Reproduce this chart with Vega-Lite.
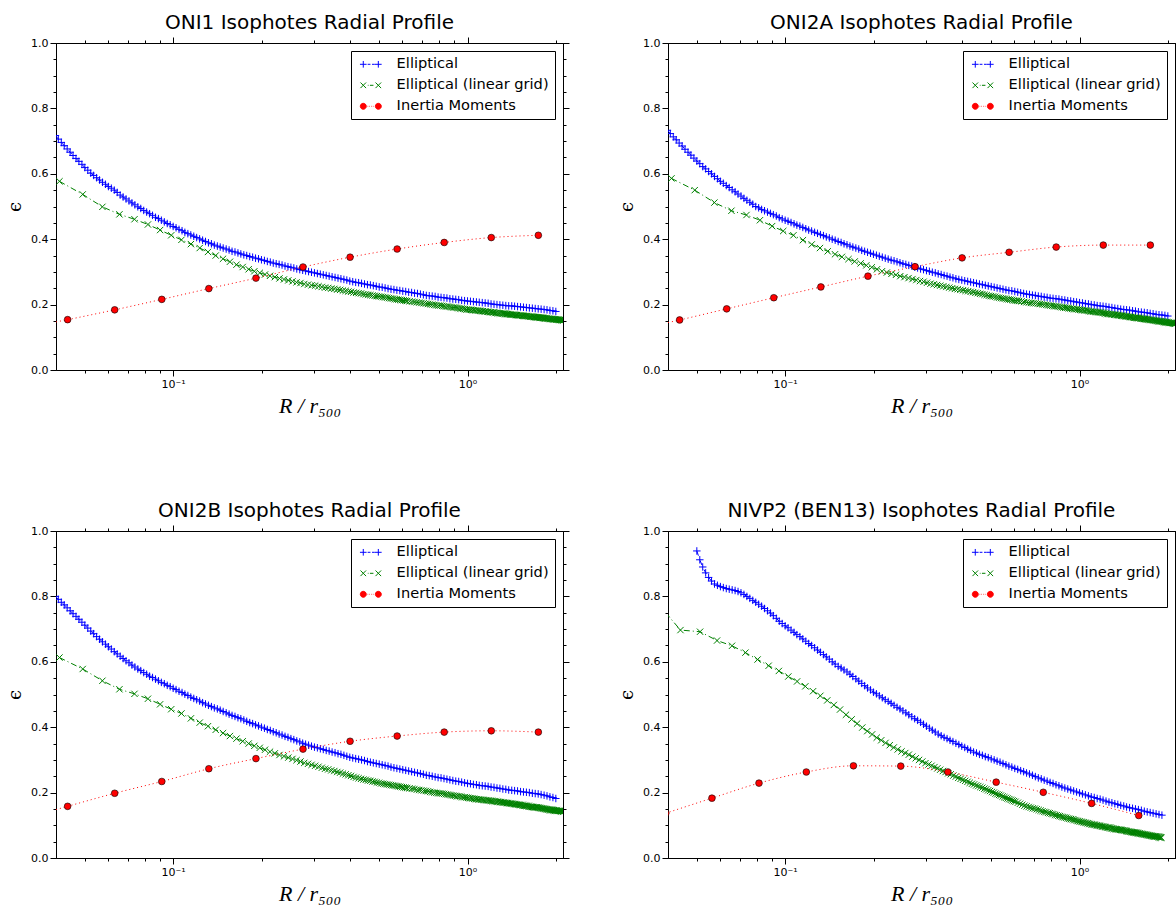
{
"$schema":"https://vega.github.io/schema/vega-lite/v6.json",
"background":"white",
"padding":{"left":6,"top":12,"right":2,"bottom":2},
"datasets":{
"ell":[
{"x":0.03981,"a":0.717,"b":0.733,"c":0.800},
{"x":0.04169,"a":0.696,"b":0.713,"c":0.782},
{"x":0.04365,"a":0.676,"b":0.694,"c":0.765},
{"x":0.04571,"a":0.656,"b":0.675,"c":0.747},
{"x":0.04786,"a":0.638,"b":0.657,"c":0.730},
{"x":0.05012,"a":0.619,"b":0.639,"c":0.712,"d":0.939},
{"x":0.05248,"a":0.602,"b":0.622,"c":0.694,"d":0.890},
{"x":0.05495,"a":0.588,"b":0.607,"c":0.677,"d":0.858},
{"x":0.05754,"a":0.574,"b":0.592,"c":0.661,"d":0.838},
{"x":0.06026,"a":0.561,"b":0.577,"c":0.646,"d":0.830},
{"x":0.06310,"a":0.550,"b":0.564,"c":0.631,"d":0.824},
{"x":0.06607,"a":0.535,"b":0.551,"c":0.617,"d":0.820},
{"x":0.06918,"a":0.523,"b":0.538,"c":0.603,"d":0.815},
{"x":0.07244,"a":0.511,"b":0.525,"c":0.590,"d":0.806},
{"x":0.07586,"a":0.499,"b":0.513,"c":0.578,"d":0.794},
{"x":0.07943,"a":0.488,"b":0.500,"c":0.567,"d":0.782},
{"x":0.08318,"a":0.478,"b":0.491,"c":0.556,"d":0.770},
{"x":0.08710,"a":0.467,"b":0.483,"c":0.547,"d":0.756},
{"x":0.09120,"a":0.458,"b":0.475,"c":0.537,"d":0.741},
{"x":0.09550,"a":0.448,"b":0.466,"c":0.528,"d":0.724},
{"x":0.1000,"a":0.439,"b":0.458,"c":0.519,"d":0.710},
{"x":0.1047,"a":0.430,"b":0.451,"c":0.510,"d":0.697},
{"x":0.1096,"a":0.421,"b":0.443,"c":0.501,"d":0.683},
{"x":0.1148,"a":0.413,"b":0.436,"c":0.492,"d":0.670},
{"x":0.1202,"a":0.405,"b":0.428,"c":0.484,"d":0.656},
{"x":0.1259,"a":0.397,"b":0.421,"c":0.475,"d":0.643},
{"x":0.1318,"a":0.389,"b":0.414,"c":0.467,"d":0.629},
{"x":0.1380,"a":0.382,"b":0.407,"c":0.459,"d":0.615},
{"x":0.1445,"a":0.376,"b":0.400,"c":0.452,"d":0.600},
{"x":0.1514,"a":0.370,"b":0.393,"c":0.444,"d":0.586},
{"x":0.1585,"a":0.363,"b":0.386,"c":0.436,"d":0.575},
{"x":0.1660,"a":0.358,"b":0.379,"c":0.429,"d":0.562},
{"x":0.1738,"a":0.352,"b":0.373,"c":0.422,"d":0.548},
{"x":0.1820,"a":0.347,"b":0.366,"c":0.414,"d":0.534},
{"x":0.1905,"a":0.342,"b":0.360,"c":0.407,"d":0.520},
{"x":0.1995,"a":0.337,"b":0.354,"c":0.400,"d":0.507},
{"x":0.2089,"a":0.332,"b":0.348,"c":0.393,"d":0.496},
{"x":0.2188,"a":0.327,"b":0.342,"c":0.386,"d":0.484},
{"x":0.2291,"a":0.323,"b":0.336,"c":0.379,"d":0.473},
{"x":0.2399,"a":0.318,"b":0.331,"c":0.372,"d":0.461},
{"x":0.2512,"a":0.314,"b":0.325,"c":0.365,"d":0.450},
{"x":0.2630,"a":0.309,"b":0.320,"c":0.358,"d":0.438},
{"x":0.2754,"a":0.305,"b":0.315,"c":0.351,"d":0.426},
{"x":0.2884,"a":0.301,"b":0.309,"c":0.345,"d":0.415},
{"x":0.3020,"a":0.297,"b":0.304,"c":0.339,"d":0.403},
{"x":0.3162,"a":0.293,"b":0.299,"c":0.334,"d":0.391},
{"x":0.3311,"a":0.289,"b":0.294,"c":0.329,"d":0.379},
{"x":0.3467,"a":0.285,"b":0.289,"c":0.324,"d":0.369},
{"x":0.3631,"a":0.281,"b":0.284,"c":0.319,"d":0.360},
{"x":0.3802,"a":0.277,"b":0.279,"c":0.314,"d":0.351},
{"x":0.3981,"a":0.272,"b":0.275,"c":0.308,"d":0.342},
{"x":0.4169,"a":0.268,"b":0.271,"c":0.304,"d":0.333},
{"x":0.4365,"a":0.265,"b":0.267,"c":0.300,"d":0.324},
{"x":0.4571,"a":0.261,"b":0.263,"c":0.295,"d":0.317},
{"x":0.4786,"a":0.258,"b":0.259,"c":0.291,"d":0.310},
{"x":0.5012,"a":0.254,"b":0.255,"c":0.287,"d":0.303},
{"x":0.5248,"a":0.251,"b":0.251,"c":0.283,"d":0.296},
{"x":0.5495,"a":0.247,"b":0.247,"c":0.278,"d":0.289},
{"x":0.5754,"a":0.244,"b":0.243,"c":0.274,"d":0.281},
{"x":0.6026,"a":0.241,"b":0.240,"c":0.270,"d":0.274},
{"x":0.6310,"a":0.238,"b":0.236,"c":0.266,"d":0.267},
{"x":0.6607,"a":0.235,"b":0.232,"c":0.262,"d":0.260},
{"x":0.6918,"a":0.232,"b":0.229,"c":0.258,"d":0.253},
{"x":0.7244,"a":0.228,"b":0.226,"c":0.253,"d":0.245},
{"x":0.7586,"a":0.226,"b":0.223,"c":0.250,"d":0.238},
{"x":0.7943,"a":0.223,"b":0.220,"c":0.246,"d":0.231},
{"x":0.8318,"a":0.221,"b":0.218,"c":0.243,"d":0.224},
{"x":0.8710,"a":0.218,"b":0.215,"c":0.239,"d":0.217},
{"x":0.9120,"a":0.216,"b":0.212,"c":0.235,"d":0.211},
{"x":0.9550,"a":0.213,"b":0.209,"c":0.232,"d":0.205},
{"x":1.000,"a":0.211,"b":0.206,"c":0.228,"d":0.199},
{"x":1.047,"a":0.209,"b":0.203,"c":0.225,"d":0.193},
{"x":1.096,"a":0.207,"b":0.200,"c":0.222,"d":0.187},
{"x":1.148,"a":0.205,"b":0.197,"c":0.220,"d":0.182},
{"x":1.202,"a":0.202,"b":0.195,"c":0.217,"d":0.177},
{"x":1.259,"a":0.200,"b":0.192,"c":0.214,"d":0.171},
{"x":1.318,"a":0.198,"b":0.189,"c":0.211,"d":0.166},
{"x":1.380,"a":0.196,"b":0.186,"c":0.208,"d":0.161},
{"x":1.445,"a":0.195,"b":0.184,"c":0.206,"d":0.156},
{"x":1.514,"a":0.193,"b":0.181,"c":0.203,"d":0.152},
{"x":1.585,"a":0.191,"b":0.178,"c":0.201,"d":0.148},
{"x":1.660,"a":0.189,"b":0.176,"c":0.198,"d":0.143},
{"x":1.738,"a":0.187,"b":0.173,"c":0.196,"d":0.139},
{"x":1.820,"a":0.185,"b":0.170,"c":0.192,"d":0.135},
{"x":1.905,"a":0.182,"b":0.168,"c":0.187,"d":0.131},
{"x":1.995,"a":0.179,"b":0.165,"c":0.182},
{"x":0.04074,"a":0.706,"b":0.723,"c":0.791},
{"x":0.04266,"a":0.686,"b":0.704,"c":0.774},
{"x":0.04467,"a":0.666,"b":0.685,"c":0.756},
{"x":0.04677,"a":0.647,"b":0.666,"c":0.739},
{"x":0.04898,"a":0.629,"b":0.648,"c":0.721},
{"x":0.05129,"a":0.611,"b":0.631,"c":0.703,"d":0.912},
{"x":0.05370,"a":0.595,"b":0.615,"c":0.686,"d":0.872},
{"x":0.05623,"a":0.581,"b":0.600,"c":0.669,"d":0.847},
{"x":0.05888,"a":0.568,"b":0.585,"c":0.654,"d":0.834},
{"x":0.06166,"a":0.556,"b":0.571,"c":0.639,"d":0.827},
{"x":0.06457,"a":0.543,"b":0.558,"c":0.624,"d":0.822},
{"x":0.06761,"a":0.529,"b":0.545,"c":0.610,"d":0.818},
{"x":0.07079,"a":0.517,"b":0.532,"c":0.597,"d":0.811},
{"x":0.07413,"a":0.505,"b":0.519,"c":0.584,"d":0.800},
{"x":0.07762,"a":0.494,"b":0.507,"c":0.573,"d":0.788},
{"x":0.08128,"a":0.483,"b":0.496,"c":0.562,"d":0.776},
{"x":0.08511,"a":0.473,"b":0.487,"c":0.552,"d":0.763},
{"x":0.08913,"a":0.463,"b":0.479,"c":0.542,"d":0.749},
{"x":0.09333,"a":0.453,"b":0.471,"c":0.533,"d":0.733},
{"x":0.09772,"a":0.444,"b":0.462,"c":0.524,"d":0.717},
{"x":0.1023,"a":0.435,"b":0.455,"c":0.515,"d":0.704},
{"x":0.1072,"a":0.426,"b":0.447,"c":0.506,"d":0.690},
{"x":0.1122,"a":0.417,"b":0.440,"c":0.497,"d":0.677},
{"x":0.1175,"a":0.409,"b":0.432,"c":0.488,"d":0.663},
{"x":0.1230,"a":0.401,"b":0.425,"c":0.480,"d":0.650},
{"x":0.1288,"a":0.393,"b":0.418,"c":0.471,"d":0.636},
{"x":0.1349,"a":0.386,"b":0.411,"c":0.463,"d":0.622},
{"x":0.1413,"a":0.379,"b":0.404,"c":0.456,"d":0.608},
{"x":0.1479,"a":0.373,"b":0.397,"c":0.448,"d":0.593},
{"x":0.1549,"a":0.367,"b":0.390,"c":0.440,"d":0.581},
{"x":0.1622,"a":0.361,"b":0.383,"c":0.433,"d":0.569},
{"x":0.1698,"a":0.355,"b":0.376,"c":0.426,"d":0.555},
{"x":0.1778,"a":0.350,"b":0.370,"c":0.418,"d":0.541},
{"x":0.1862,"a":0.345,"b":0.363,"c":0.411,"d":0.527},
{"x":0.1950,"a":0.340,"b":0.357,"c":0.404,"d":0.514},
{"x":0.2042,"a":0.335,"b":0.351,"c":0.397,"d":0.502},
{"x":0.2138,"a":0.330,"b":0.345,"c":0.390,"d":0.490},
{"x":0.2239,"a":0.325,"b":0.339,"c":0.383,"d":0.479},
{"x":0.2344,"a":0.321,"b":0.334,"c":0.376,"d":0.467},
{"x":0.2455,"a":0.316,"b":0.328,"c":0.369,"d":0.456},
{"x":0.2570,"a":0.312,"b":0.323,"c":0.362,"d":0.444},
{"x":0.2692,"a":0.307,"b":0.318,"c":0.355,"d":0.432},
{"x":0.2818,"a":0.303,"b":0.312,"c":0.348,"d":0.421},
{"x":0.2951,"a":0.299,"b":0.307,"c":0.342,"d":0.409},
{"x":0.3090,"a":0.295,"b":0.302,"c":0.337,"d":0.397},
{"x":0.3236,"a":0.291,"b":0.297,"c":0.332,"d":0.385},
{"x":0.3388,"a":0.287,"b":0.292,"c":0.327,"d":0.374},
{"x":0.3548,"a":0.283,"b":0.287,"c":0.322,"d":0.365},
{"x":0.3715,"a":0.279,"b":0.282,"c":0.317,"d":0.356},
{"x":0.3890,"a":0.275,"b":0.277,"c":0.311,"d":0.347},
{"x":0.4074,"a":0.270,"b":0.273,"c":0.306,"d":0.338},
{"x":0.4266,"a":0.267,"b":0.269,"c":0.302,"d":0.329},
{"x":0.4467,"a":0.263,"b":0.265,"c":0.298,"d":0.321},
{"x":0.4677,"a":0.260,"b":0.261,"c":0.293,"d":0.314},
{"x":0.4898,"a":0.256,"b":0.257,"c":0.289,"d":0.307},
{"x":0.5129,"a":0.253,"b":0.253,"c":0.285,"d":0.300},
{"x":0.5370,"a":0.249,"b":0.249,"c":0.281,"d":0.293},
{"x":0.5623,"a":0.246,"b":0.245,"c":0.276,"d":0.285},
{"x":0.5888,"a":0.243,"b":0.242,"c":0.272,"d":0.278},
{"x":0.6166,"a":0.240,"b":0.238,"c":0.268,"d":0.271},
{"x":0.6457,"a":0.237,"b":0.234,"c":0.264,"d":0.264},
{"x":0.6761,"a":0.234,"b":0.231,"c":0.260,"d":0.257},
{"x":0.7079,"a":0.230,"b":0.228,"c":0.256,"d":0.249},
{"x":0.7413,"a":0.227,"b":0.225,"c":0.252,"d":0.242},
{"x":0.7762,"a":0.225,"b":0.222,"c":0.248,"d":0.235},
{"x":0.8128,"a":0.222,"b":0.219,"c":0.245,"d":0.228},
{"x":0.8511,"a":0.220,"b":0.217,"c":0.241,"d":0.221},
{"x":0.8913,"a":0.217,"b":0.214,"c":0.237,"d":0.214},
{"x":0.9333,"a":0.215,"b":0.211,"c":0.234,"d":0.208},
{"x":0.9772,"a":0.212,"b":0.208,"c":0.230,"d":0.202},
{"x":1.023,"a":0.210,"b":0.205,"c":0.227,"d":0.196},
{"x":1.072,"a":0.208,"b":0.202,"c":0.224,"d":0.190},
{"x":1.122,"a":0.206,"b":0.199,"c":0.221,"d":0.185},
{"x":1.175,"a":0.204,"b":0.196,"c":0.219,"d":0.180},
{"x":1.230,"a":0.201,"b":0.194,"c":0.216,"d":0.174},
{"x":1.288,"a":0.199,"b":0.191,"c":0.213,"d":0.169},
{"x":1.349,"a":0.197,"b":0.188,"c":0.210,"d":0.164},
{"x":1.413,"a":0.196,"b":0.185,"c":0.207,"d":0.159},
{"x":1.479,"a":0.194,"b":0.183,"c":0.205,"d":0.154},
{"x":1.549,"a":0.192,"b":0.180,"c":0.202,"d":0.150},
{"x":1.622,"a":0.190,"b":0.177,"c":0.200,"d":0.146},
{"x":1.698,"a":0.188,"b":0.175,"c":0.197,"d":0.141},
{"x":1.778,"a":0.186,"b":0.172,"c":0.194,"d":0.137},
{"x":1.862,"a":0.184,"b":0.169,"c":0.190,"d":0.133},
{"x":1.950,"a":0.181,"b":0.167,"c":0.185}
],
"lin":[
{"x":0.0411,"a":0.577,"b":0.586,"c":0.613},
{"x":0.0493,"a":0.537,"b":0.550,"c":0.578},
{"x":0.0575,"a":0.499,"b":0.512,"c":0.542},
{"x":0.0657,"a":0.476,"b":0.487,"c":0.516},
{"x":0.0739,"a":0.461,"b":0.474,"c":0.502},
{"x":0.0821,"a":0.445,"b":0.458,"c":0.487},
{"x":0.0903,"a":0.428,"b":0.440,"c":0.470},
{"x":0.0985,"a":0.412,"b":0.425,"c":0.455},
{"x":0.1067,"a":0.398,"b":0.412,"c":0.442},
{"x":0.1149,"a":0.385,"b":0.397,"c":0.427},
{"x":0.1231,"a":0.373,"b":0.384,"c":0.414},
{"x":0.1313,"a":0.361,"b":0.373,"c":0.403},
{"x":0.1395,"a":0.350,"b":0.363,"c":0.392},
{"x":0.1477,"a":0.340,"b":0.354,"c":0.382},
{"x":0.1559,"a":0.331,"b":0.346,"c":0.373},
{"x":0.1641,"a":0.322,"b":0.339,"c":0.365},
{"x":0.1723,"a":0.315,"b":0.332,"c":0.357},
{"x":0.1805,"a":0.308,"b":0.326,"c":0.350},
{"x":0.1887,"a":0.302,"b":0.320,"c":0.343},
{"x":0.1969,"a":0.297,"b":0.314,"c":0.337},
{"x":0.2051,"a":0.292,"b":0.308,"c":0.331},
{"x":0.2133,"a":0.288,"b":0.302,"c":0.325},
{"x":0.2215,"a":0.284,"b":0.298,"c":0.320},
{"x":0.2297,"a":0.280,"b":0.294,"c":0.315},
{"x":0.2379,"a":0.277,"b":0.291,"c":0.311},
{"x":0.2461,"a":0.274,"b":0.287,"c":0.307},
{"x":0.2543,"a":0.271,"b":0.284,"c":0.303},
{"x":0.2625,"a":0.268,"b":0.281,"c":0.299},
{"x":0.2707,"a":0.266,"b":0.278,"c":0.295},
{"x":0.2789,"a":0.263,"b":0.275,"c":0.291},
{"x":0.2871,"a":0.261,"b":0.272,"c":0.288},
{"x":0.2953,"a":0.259,"b":0.270,"c":0.285},
{"x":0.3117,"a":0.256,"b":0.264,"c":0.279},
{"x":0.3281,"a":0.252,"b":0.260,"c":0.273},
{"x":0.3445,"a":0.249,"b":0.256,"c":0.268},
{"x":0.3609,"a":0.246,"b":0.252,"c":0.263},
{"x":0.3773,"a":0.243,"b":0.248,"c":0.258},
{"x":0.3937,"a":0.240,"b":0.245,"c":0.253},
{"x":0.4101,"a":0.237,"b":0.242,"c":0.248},
{"x":0.4265,"a":0.235,"b":0.239,"c":0.244},
{"x":0.4429,"a":0.232,"b":0.236,"c":0.240},
{"x":0.4593,"a":0.230,"b":0.233,"c":0.237},
{"x":0.4757,"a":0.228,"b":0.230,"c":0.234},
{"x":0.4921,"a":0.226,"b":0.227,"c":0.231},
{"x":0.5085,"a":0.224,"b":0.225,"c":0.228},
{"x":0.5249,"a":0.222,"b":0.222,"c":0.226},
{"x":0.5413,"a":0.220,"b":0.220,"c":0.224},
{"x":0.5577,"a":0.218,"b":0.218,"c":0.222},
{"x":0.5741,"a":0.216,"b":0.216,"c":0.220},
{"x":0.5905,"a":0.214,"b":0.214,"c":0.218},
{"x":0.6069,"a":0.213,"b":0.212,"c":0.216},
{"x":0.6233,"a":0.211,"b":0.211,"c":0.214},
{"x":0.6479,"a":0.209,"b":0.208,"c":0.212},
{"x":0.6725,"a":0.207,"b":0.206,"c":0.209},
{"x":0.6971,"a":0.205,"b":0.204,"c":0.207},
{"x":0.7217,"a":0.203,"b":0.203,"c":0.205},
{"x":0.7463,"a":0.201,"b":0.201,"c":0.202},
{"x":0.7709,"a":0.199,"b":0.199,"c":0.200},
{"x":0.7955,"a":0.197,"b":0.197,"c":0.198},
{"x":0.8201,"a":0.196,"b":0.195,"c":0.197},
{"x":0.8447,"a":0.194,"b":0.194,"c":0.195},
{"x":0.8693,"a":0.193,"b":0.192,"c":0.193},
{"x":0.8939,"a":0.191,"b":0.190,"c":0.191},
{"x":0.9185,"a":0.190,"b":0.189,"c":0.189},
{"x":0.9431,"a":0.188,"b":0.187,"c":0.188},
{"x":0.9677,"a":0.187,"b":0.186,"c":0.186},
{"x":0.9923,"a":0.185,"b":0.185,"c":0.185},
{"x":1.0169,"a":0.184,"b":0.183,"c":0.183},
{"x":1.0415,"a":0.183,"b":0.182,"c":0.182},
{"x":1.0661,"a":0.182,"b":0.181,"c":0.180},
{"x":1.0907,"a":0.181,"b":0.179,"c":0.179},
{"x":1.1153,"a":0.180,"b":0.178,"c":0.178},
{"x":1.1399,"a":0.179,"b":0.177,"c":0.177},
{"x":1.1645,"a":0.178,"b":0.176,"c":0.176},
{"x":1.1891,"a":0.177,"b":0.175,"c":0.175},
{"x":1.2137,"a":0.176,"b":0.174,"c":0.174},
{"x":1.2383,"a":0.175,"b":0.172,"c":0.173},
{"x":1.2629,"a":0.174,"b":0.171,"c":0.172},
{"x":1.2875,"a":0.173,"b":0.170,"c":0.171},
{"x":1.3121,"a":0.173,"b":0.169,"c":0.170},
{"x":1.3367,"a":0.172,"b":0.168,"c":0.169},
{"x":1.3613,"a":0.171,"b":0.167,"c":0.168},
{"x":1.3859,"a":0.170,"b":0.166,"c":0.167},
{"x":1.4105,"a":0.169,"b":0.165,"c":0.166},
{"x":1.4351,"a":0.169,"b":0.164,"c":0.165},
{"x":1.4597,"a":0.168,"b":0.163,"c":0.164},
{"x":1.4843,"a":0.167,"b":0.162,"c":0.163},
{"x":1.5089,"a":0.167,"b":0.161,"c":0.162},
{"x":1.5335,"a":0.166,"b":0.160,"c":0.161},
{"x":1.5581,"a":0.165,"b":0.159,"c":0.160},
{"x":1.5827,"a":0.165,"b":0.159,"c":0.159},
{"x":1.6073,"a":0.164,"b":0.158,"c":0.158},
{"x":1.6319,"a":0.163,"b":0.157,"c":0.157},
{"x":1.6565,"a":0.163,"b":0.156,"c":0.156},
{"x":1.6811,"a":0.162,"b":0.155,"c":0.155},
{"x":1.7057,"a":0.161,"b":0.154,"c":0.155},
{"x":1.7303,"a":0.161,"b":0.153,"c":0.154},
{"x":1.7549,"a":0.160,"b":0.153,"c":0.153},
{"x":1.7795,"a":0.160,"b":0.152,"c":0.152},
{"x":1.8041,"a":0.159,"b":0.151,"c":0.151},
{"x":1.8287,"a":0.158,"b":0.150,"c":0.150},
{"x":1.8533,"a":0.158,"b":0.149,"c":0.149},
{"x":1.8779,"a":0.157,"b":0.149,"c":0.148},
{"x":1.9025,"a":0.156,"b":0.148,"c":0.147},
{"x":1.9271,"a":0.156,"b":0.147,"c":0.147},
{"x":1.9517,"a":0.155,"b":0.146,"c":0.146},
{"x":1.9763,"a":0.155,"b":0.146,"c":0.145},
{"x":2.0009,"a":0.154,"b":0.145,"c":0.145},
{"x":2.0255,"a":0.154,"b":0.144,"c":0.144},
{"x":2.0501,"a":0.153,"b":0.144,"c":0.144},
{"x":2.0747,"a":0.153,"b":0.143,"c":0.143},
{"x":2.0993,"a":0.152,"b":0.142,"c":0.143},
{"x":2.1239,"a":0.152,"b":0.142,"c":0.142},
{"x":0.3035,"a":0.258,"b":0.267,"c":0.282},
{"x":0.3199,"a":0.254,"b":0.262,"c":0.276},
{"x":0.3363,"a":0.251,"b":0.258,"c":0.271},
{"x":0.3527,"a":0.248,"b":0.254,"c":0.266},
{"x":0.3691,"a":0.245,"b":0.250,"c":0.261},
{"x":0.3855,"a":0.242,"b":0.247,"c":0.256},
{"x":0.4019,"a":0.239,"b":0.244,"c":0.251},
{"x":0.4183,"a":0.236,"b":0.241,"c":0.246},
{"x":0.4347,"a":0.234,"b":0.238,"c":0.242},
{"x":0.4511,"a":0.231,"b":0.235,"c":0.239},
{"x":0.4675,"a":0.229,"b":0.232,"c":0.236},
{"x":0.4839,"a":0.227,"b":0.229,"c":0.233},
{"x":0.5003,"a":0.225,"b":0.226,"c":0.230},
{"x":0.5167,"a":0.223,"b":0.224,"c":0.227},
{"x":0.5331,"a":0.221,"b":0.221,"c":0.225},
{"x":0.5495,"a":0.219,"b":0.219,"c":0.223},
{"x":0.5659,"a":0.217,"b":0.217,"c":0.221},
{"x":0.5823,"a":0.215,"b":0.215,"c":0.219},
{"x":0.5987,"a":0.214,"b":0.213,"c":0.217},
{"x":0.6151,"a":0.212,"b":0.212,"c":0.215},
{"x":0.6356,"a":0.210,"b":0.210,"c":0.213},
{"x":0.6602,"a":0.208,"b":0.207,"c":0.211},
{"x":0.6848,"a":0.206,"b":0.205,"c":0.208},
{"x":0.7094,"a":0.204,"b":0.204,"c":0.206},
{"x":0.7340,"a":0.202,"b":0.202,"c":0.204},
{"x":0.7586,"a":0.200,"b":0.200,"c":0.201},
{"x":0.7832,"a":0.198,"b":0.198,"c":0.199},
{"x":0.8078,"a":0.197,"b":0.196,"c":0.198},
{"x":0.8324,"a":0.195,"b":0.195,"c":0.196},
{"x":0.8570,"a":0.194,"b":0.193,"c":0.194},
{"x":0.8816,"a":0.192,"b":0.191,"c":0.192},
{"x":0.9062,"a":0.191,"b":0.190,"c":0.190},
{"x":0.9308,"a":0.189,"b":0.188,"c":0.189},
{"x":0.9554,"a":0.188,"b":0.187,"c":0.187},
{"x":0.9800,"a":0.186,"b":0.186,"c":0.186},
{"x":1.0046,"a":0.185,"b":0.184,"c":0.184},
{"x":1.0292,"a":0.184,"b":0.183,"c":0.183},
{"x":1.0538,"a":0.183,"b":0.182,"c":0.181},
{"x":1.0784,"a":0.182,"b":0.180,"c":0.180},
{"x":1.1030,"a":0.181,"b":0.179,"c":0.179},
{"x":1.1276,"a":0.180,"b":0.178,"c":0.178},
{"x":1.1522,"a":0.179,"b":0.177,"c":0.177},
{"x":1.1768,"a":0.178,"b":0.176,"c":0.176},
{"x":1.2014,"a":0.177,"b":0.175,"c":0.175},
{"x":1.2260,"a":0.176,"b":0.173,"c":0.174},
{"x":1.2506,"a":0.175,"b":0.172,"c":0.173},
{"x":1.2752,"a":0.174,"b":0.171,"c":0.172},
{"x":1.2998,"a":0.173,"b":0.170,"c":0.171},
{"x":1.3244,"a":0.173,"b":0.169,"c":0.170},
{"x":1.3490,"a":0.172,"b":0.168,"c":0.169},
{"x":1.3736,"a":0.171,"b":0.167,"c":0.168},
{"x":1.3982,"a":0.170,"b":0.166,"c":0.167},
{"x":1.4228,"a":0.169,"b":0.165,"c":0.166},
{"x":1.4474,"a":0.169,"b":0.164,"c":0.165},
{"x":1.4720,"a":0.168,"b":0.163,"c":0.164},
{"x":1.4966,"a":0.167,"b":0.162,"c":0.163},
{"x":1.5212,"a":0.167,"b":0.161,"c":0.162},
{"x":1.5458,"a":0.166,"b":0.160,"c":0.161},
{"x":1.5704,"a":0.165,"b":0.159,"c":0.160},
{"x":1.5950,"a":0.165,"b":0.159,"c":0.159},
{"x":1.6196,"a":0.164,"b":0.158,"c":0.158},
{"x":1.6442,"a":0.163,"b":0.157,"c":0.157},
{"x":1.6688,"a":0.163,"b":0.156,"c":0.156},
{"x":1.6934,"a":0.162,"b":0.155,"c":0.155},
{"x":1.7180,"a":0.161,"b":0.154,"c":0.155},
{"x":1.7426,"a":0.161,"b":0.153,"c":0.154},
{"x":1.7672,"a":0.160,"b":0.153,"c":0.153},
{"x":1.7918,"a":0.160,"b":0.152,"c":0.152},
{"x":1.8164,"a":0.159,"b":0.151,"c":0.151},
{"x":1.8410,"a":0.158,"b":0.150,"c":0.150},
{"x":1.8656,"a":0.158,"b":0.149,"c":0.149},
{"x":1.8902,"a":0.157,"b":0.149,"c":0.148},
{"x":1.9148,"a":0.156,"b":0.148,"c":0.147},
{"x":1.9394,"a":0.156,"b":0.147,"c":0.147},
{"x":1.9640,"a":0.155,"b":0.146,"c":0.146},
{"x":1.9886,"a":0.155,"b":0.146,"c":0.145},
{"x":2.0132,"a":0.154,"b":0.145,"c":0.145},
{"x":2.0378,"a":0.154,"b":0.144,"c":0.144},
{"x":2.0624,"a":0.153,"b":0.144,"c":0.144},
{"x":2.0870,"a":0.153,"b":0.143,"c":0.143},
{"x":2.1116,"a":0.152,"b":0.142,"c":0.142}
],
"lin4":[
{"x":0.0368,"y":0.780},{"x":0.0441,"y":0.697},{"x":0.0514,"y":0.692},{"x":0.0587,"y":0.665},
{"x":0.0660,"y":0.649},{"x":0.0733,"y":0.628},{"x":0.0806,"y":0.607},{"x":0.0879,"y":0.588},
{"x":0.0952,"y":0.572},{"x":0.1025,"y":0.555},{"x":0.1098,"y":0.540},{"x":0.1171,"y":0.525},
{"x":0.1244,"y":0.510},{"x":0.1317,"y":0.496},{"x":0.1390,"y":0.482},{"x":0.1463,"y":0.468},
{"x":0.1536,"y":0.454},{"x":0.1609,"y":0.438},{"x":0.1682,"y":0.424},{"x":0.1755,"y":0.411},
{"x":0.1828,"y":0.399},{"x":0.1901,"y":0.388},{"x":0.1974,"y":0.378},{"x":0.2047,"y":0.368},
{"x":0.2120,"y":0.360},{"x":0.2193,"y":0.352},{"x":0.2266,"y":0.345},{"x":0.2339,"y":0.338},
{"x":0.2412,"y":0.332},{"x":0.2485,"y":0.326},{"x":0.2558,"y":0.321},{"x":0.2631,"y":0.316},
{"x":0.2704,"y":0.310},{"x":0.2777,"y":0.305},{"x":0.2850,"y":0.300},{"x":0.2923,"y":0.295},
{"x":0.2996,"y":0.290},{"x":0.3142,"y":0.282},{"x":0.3288,"y":0.274},{"x":0.3434,"y":0.266},
{"x":0.3580,"y":0.259},{"x":0.3726,"y":0.252},{"x":0.3872,"y":0.245},{"x":0.4018,"y":0.239},
{"x":0.4164,"y":0.233},{"x":0.4310,"y":0.227},{"x":0.4456,"y":0.222},{"x":0.4602,"y":0.217},
{"x":0.4748,"y":0.212},{"x":0.4894,"y":0.207},{"x":0.5040,"y":0.202},{"x":0.5186,"y":0.197},
{"x":0.5332,"y":0.193},{"x":0.5478,"y":0.188},{"x":0.5624,"y":0.184},{"x":0.5770,"y":0.180},
{"x":0.5916,"y":0.176},{"x":0.6062,"y":0.172},{"x":0.6281,"y":0.166},{"x":0.6500,"y":0.160},
{"x":0.6719,"y":0.156},{"x":0.6938,"y":0.152},{"x":0.7157,"y":0.149},{"x":0.7376,"y":0.145},
{"x":0.7595,"y":0.141},{"x":0.7814,"y":0.138},{"x":0.8033,"y":0.135},{"x":0.8252,"y":0.132},
{"x":0.8471,"y":0.129},{"x":0.8690,"y":0.126},{"x":0.8909,"y":0.124},{"x":0.9128,"y":0.121},
{"x":0.9347,"y":0.119},{"x":0.9566,"y":0.117},{"x":0.9785,"y":0.114},{"x":1.0004,"y":0.112},
{"x":1.0223,"y":0.110},{"x":1.0442,"y":0.108},{"x":1.0661,"y":0.106},{"x":1.0880,"y":0.104},
{"x":1.1099,"y":0.102},{"x":1.1318,"y":0.101},{"x":1.1537,"y":0.099},{"x":1.1756,"y":0.098},
{"x":1.1975,"y":0.096},{"x":1.2194,"y":0.095},{"x":1.2413,"y":0.093},{"x":1.2632,"y":0.092},
{"x":1.2851,"y":0.091},{"x":1.3070,"y":0.089},{"x":1.3289,"y":0.088},{"x":1.3508,"y":0.087},
{"x":1.3727,"y":0.086},{"x":1.3946,"y":0.085},{"x":1.4165,"y":0.084},{"x":1.4384,"y":0.083},
{"x":1.4603,"y":0.081},{"x":1.4822,"y":0.080},{"x":1.5041,"y":0.079},{"x":1.5260,"y":0.078},
{"x":1.5479,"y":0.077},{"x":1.5698,"y":0.076},{"x":1.5917,"y":0.075},{"x":1.6136,"y":0.074},
{"x":1.6355,"y":0.073},{"x":1.6574,"y":0.072},{"x":1.6793,"y":0.071},{"x":1.7012,"y":0.070},
{"x":1.7231,"y":0.069},{"x":1.7450,"y":0.068},{"x":1.7669,"y":0.067},{"x":1.7888,"y":0.066},
{"x":1.8107,"y":0.066},{"x":1.8326,"y":0.065},{"x":1.8545,"y":0.064},{"x":1.8764,"y":0.063},
{"x":1.8983,"y":0.062},
{"x":0.3069,"y":0.286},{"x":0.3215,"y":0.278},{"x":0.3361,"y":0.270},{"x":0.3507,"y":0.263},
{"x":0.3653,"y":0.256},{"x":0.3799,"y":0.249},{"x":0.3945,"y":0.242},{"x":0.4091,"y":0.236},
{"x":0.4237,"y":0.230},{"x":0.4383,"y":0.225},{"x":0.4529,"y":0.220},{"x":0.4675,"y":0.215},
{"x":0.4821,"y":0.210},{"x":0.4967,"y":0.205},{"x":0.5113,"y":0.200},{"x":0.5259,"y":0.195},
{"x":0.5405,"y":0.191},{"x":0.5551,"y":0.186},{"x":0.5697,"y":0.182},{"x":0.5843,"y":0.178},
{"x":0.5989,"y":0.174},{"x":0.6172,"y":0.169},{"x":0.6391,"y":0.163},{"x":0.6610,"y":0.158},
{"x":0.6829,"y":0.154},{"x":0.7048,"y":0.151},{"x":0.7267,"y":0.147},{"x":0.7486,"y":0.143},
{"x":0.7705,"y":0.140},{"x":0.7924,"y":0.137},{"x":0.8143,"y":0.134},{"x":0.8362,"y":0.131},
{"x":0.8581,"y":0.128},{"x":0.8800,"y":0.125},{"x":0.9019,"y":0.123},{"x":0.9238,"y":0.120},
{"x":0.9457,"y":0.118},{"x":0.9676,"y":0.116},{"x":0.9895,"y":0.113},{"x":1.0114,"y":0.111},
{"x":1.0333,"y":0.109},{"x":1.0552,"y":0.107},{"x":1.0771,"y":0.105},{"x":1.0990,"y":0.103},
{"x":1.1209,"y":0.102},{"x":1.1428,"y":0.100},{"x":1.1647,"y":0.099},{"x":1.1866,"y":0.097},
{"x":1.2085,"y":0.096},{"x":1.2304,"y":0.094},{"x":1.2523,"y":0.093},{"x":1.2742,"y":0.092},
{"x":1.2961,"y":0.090},{"x":1.3180,"y":0.089},{"x":1.3399,"y":0.088},{"x":1.3618,"y":0.087},
{"x":1.3837,"y":0.086},{"x":1.4056,"y":0.085},{"x":1.4275,"y":0.084},{"x":1.4494,"y":0.082},
{"x":1.4713,"y":0.081},{"x":1.4932,"y":0.080},{"x":1.5151,"y":0.079},{"x":1.5370,"y":0.078},
{"x":1.5589,"y":0.077},{"x":1.5808,"y":0.076},{"x":1.6027,"y":0.075},{"x":1.6246,"y":0.074},
{"x":1.6465,"y":0.073},{"x":1.6684,"y":0.072},{"x":1.6903,"y":0.071},{"x":1.7122,"y":0.070},
{"x":1.7341,"y":0.069},{"x":1.7560,"y":0.068},{"x":1.7779,"y":0.067},{"x":1.7998,"y":0.066},
{"x":1.8217,"y":0.066},{"x":1.8436,"y":0.065},{"x":1.8655,"y":0.064},{"x":1.8874,"y":0.063}
],
"inr":[
{"x":0.04,"a":0.147,"b":0.145,"c":0.148,"m":0},
{"x":0.0438,"a":0.154,"b":0.153,"c":0.158,"m":1},
{"x":0.0633,"a":0.184,"b":0.187,"c":0.198,"m":1},
{"x":0.0915,"a":0.216,"b":0.221,"c":0.234,"m":1},
{"x":0.1322,"a":0.249,"b":0.254,"c":0.273,"m":1},
{"x":0.1911,"a":0.281,"b":0.287,"c":0.304,"m":1},
{"x":0.2761,"a":0.315,"b":0.316,"c":0.333,"m":1},
{"x":0.399,"a":0.345,"b":0.343,"c":0.357,"m":1},
{"x":0.5766,"a":0.370,"b":0.360,"c":0.373,"m":1},
{"x":0.8332,"a":0.390,"b":0.376,"c":0.385,"m":1},
{"x":1.204,"a":0.405,"b":0.382,"c":0.389,"m":1},
{"x":1.74,"a":0.412,"b":0.382,"c":0.385,"m":1}
],
"inr4":[
{"x":0.0393,"y":0.137},{"x":0.0564,"y":0.183},{"x":0.0815,"y":0.229},{"x":0.118,"y":0.263},
{"x":0.1706,"y":0.282},{"x":0.247,"y":0.281},{"x":0.357,"y":0.263},{"x":0.521,"y":0.232},
{"x":0.753,"y":0.201},{"x":1.099,"y":0.167},{"x":1.589,"y":0.130}
],
"leg":[
{"s":"Elliptical","v":-0.05},
{"s":"Elliptical (linear grid)","v":-0.05},
{"s":"Inertia Moments","v":-0.05}
]
},
"columns":2,
"bounds":"flush",
"spacing":{"row":161,"column":105},
"resolve":{"scale":{"shape":"independent","stroke":"independent","fill":"independent"},"legend":{"shape":"independent","stroke":"independent","fill":"independent"}},
"concat":[
{"title":"ONI1 Isophotes Radial Profile","width":507,"height":327,
"resolve":{"axis":{"x":"independent","y":"independent"}},
"layer":[
{"data":{"name":"ell"},"mark":{"type":"line","stroke":"#0000ff","strokeWidth":1,"strokeDash":[5,5],"clip":true},
"encoding":{"x":{"field":"x","type":"quantitative","scale":{"type":"log","domain":[0.04,2.11],"nice":false},"axis":{"orient":"bottom","values":[0.1,1],"labelExpr":"datum.value < 0.5 ? '10⁻¹' : '10⁰'","tickSize":6,"title":"R / r₅₀₀","titleFont":"Liberation Serif","titleFontStyle":"italic","titleFontSize":22,"titlePadding":6}},
"y":{"field":"a","type":"quantitative","scale":{"domain":[0,1],"nice":false},"axis":{"orient":"left","values":[0,0.2,0.4,0.6,0.8,1],"format":".1f","tickSize":6,"title":"ϵ","titleFont":"DejaVu Serif","titleFontSize":18,"titlePadding":6}}}},
{"data":{"name":"ell"},"mark":{"type":"point","shape":"M-1,0H1M0,-1V1","filled":false,"stroke":"#0000ff","strokeWidth":1,"size":56,"opacity":1,"clip":true},
"encoding":{"x":{"field":"x","type":"quantitative","scale":{"type":"log","domain":[0.04,2.11],"nice":false},"axis":{"orient":"top","values":[0.1,1],"labels":false,"tickSize":6,"title":null}},
"y":{"field":"a","type":"quantitative","scale":{"domain":[0,1],"nice":false},"axis":{"orient":"right","values":[0,0.2,0.4,0.6,0.8,1],"labels":false,"tickSize":6,"title":null}}}},
{"data":{"name":"lin"},"mark":{"type":"line","stroke":"#008000","strokeWidth":1,"strokeDash":[6,3,1,3],"clip":true},
"encoding":{"x":{"field":"x","type":"quantitative","scale":{"type":"log","domain":[0.04,2.11],"nice":false},"axis":{"orient":"bottom","values":[0.05,0.06,0.07,0.08,0.09,0.2,0.3,0.4,0.5,0.6,0.7,0.8,0.9,2],"labels":false,"domain":false,"tickSize":3,"title":null}},
"y":{"field":"a","type":"quantitative","scale":{"domain":[0,1],"nice":false},"axis":{"orient":"left","values":[0.05,0.1,0.15,0.25,0.3,0.35,0.45,0.5,0.55,0.65,0.7,0.75,0.85,0.9,0.95],"labels":false,"domain":false,"tickSize":3,"title":null}}}},
{"data":{"name":"lin"},"mark":{"type":"point","shape":"M-1,-1L1,1M-1,1L1,-1","filled":false,"stroke":"#008000","strokeWidth":1,"size":40,"opacity":1,"clip":true},
"encoding":{"x":{"field":"x","type":"quantitative","scale":{"type":"log","domain":[0.04,2.11],"nice":false},"axis":{"orient":"top","values":[0.05,0.06,0.07,0.08,0.09,0.2,0.3,0.4,0.5,0.6,0.7,0.8,0.9,2],"labels":false,"domain":false,"tickSize":3,"title":null}},
"y":{"field":"a","type":"quantitative","scale":{"domain":[0,1],"nice":false},"axis":{"orient":"right","values":[0.05,0.1,0.15,0.25,0.3,0.35,0.45,0.5,0.55,0.65,0.7,0.75,0.85,0.9,0.95],"labels":false,"domain":false,"tickSize":3,"title":null}}}},
{"data":{"name":"inr"},"mark":{"type":"line","stroke":"#ff0000","strokeWidth":1,"strokeDash":[1,3],"interpolate":"monotone","clip":true},
"encoding":{"x":{"field":"x","type":"quantitative","scale":{"type":"log","domain":[0.04,2.11],"nice":false},"axis":null},"y":{"field":"a","type":"quantitative","scale":{"domain":[0,1],"nice":false},"axis":null}}},
{"data":{"name":"inr"},"transform":[{"filter":"datum.m == 1"}],"mark":{"type":"point","shape":"circle","filled":true,"fill":"#ff0000","stroke":"#000000","strokeWidth":0.6,"size":45,"opacity":1,"clip":true},
"encoding":{"x":{"field":"x","type":"quantitative","scale":{"type":"log","domain":[0.04,2.11],"nice":false},"axis":null},"y":{"field":"a","type":"quantitative","scale":{"domain":[0,1],"nice":false},"axis":null}}},
{"data":{"name":"leg"},"mark":{"type":"point","filled":true,"opacity":1,"clip":true,"strokeWidth":1},
"encoding":{"y":{"field":"v","type":"quantitative","scale":{"domain":[0,1],"nice":false},"axis":null},
"shape":{"field":"s","type":"nominal","scale":{"domain":["Elliptical","Elliptical (linear grid)","Inertia Moments"],"range":["M-3.1,0H-1.2M-2.15,-0.95V0.95M1.2,0H3.1M2.15,-0.95V0.95M-0.9,0H-0.1M0.35,0H1.15","M-2.95,-0.8L-1.35,0.8M-2.95,0.8L-1.35,-0.8M1.35,-0.8L2.95,0.8M1.35,0.8L2.95,-0.8M-0.85,0H-0.65M-0.25,0H0.75","M-3.0,0A0.85,0.85,0,1,1,-1.3,0A0.85,0.85,0,1,1,-3.0,0ZM1.3,0A0.85,0.85,0,1,1,3.0,0A0.85,0.85,0,1,1,1.3,0ZM-0.9,0H-0.75M-0.4,0H-0.25M0.1,0H0.25M0.6,0H0.75"]},"legend":{"title":null}},
"stroke":{"field":"s","type":"nominal","scale":{"domain":["Elliptical","Elliptical (linear grid)","Inertia Moments"],"range":["#0000ff","#008000","#ff0000"]},"legend":{"title":null}},
"fill":{"field":"s","type":"nominal","scale":{"domain":["Elliptical","Elliptical (linear grid)","Inertia Moments"],"range":["transparent","transparent","#ff0000"]},"legend":{"title":null}}}}
]},
{"title":"ONI2A Isophotes Radial Profile","width":507,"height":327,
"resolve":{"axis":{"x":"independent","y":"independent"}},
"layer":[
{"data":{"name":"ell"},"mark":{"type":"line","stroke":"#0000ff","strokeWidth":1,"strokeDash":[5,5],"clip":true},
"encoding":{"x":{"field":"x","type":"quantitative","scale":{"type":"log","domain":[0.04,2.11],"nice":false},"axis":{"orient":"bottom","values":[0.1,1],"labelExpr":"datum.value < 0.5 ? '10⁻¹' : '10⁰'","tickSize":6,"title":"R / r₅₀₀","titleFont":"Liberation Serif","titleFontStyle":"italic","titleFontSize":22,"titlePadding":6}},
"y":{"field":"b","type":"quantitative","scale":{"domain":[0,1],"nice":false},"axis":{"orient":"left","values":[0,0.2,0.4,0.6,0.8,1],"format":".1f","tickSize":6,"title":"ϵ","titleFont":"DejaVu Serif","titleFontSize":18,"titlePadding":6}}}},
{"data":{"name":"ell"},"mark":{"type":"point","shape":"M-1,0H1M0,-1V1","filled":false,"stroke":"#0000ff","strokeWidth":1,"size":56,"opacity":1,"clip":true},
"encoding":{"x":{"field":"x","type":"quantitative","scale":{"type":"log","domain":[0.04,2.11],"nice":false},"axis":{"orient":"top","values":[0.1,1],"labels":false,"tickSize":6,"title":null}},
"y":{"field":"b","type":"quantitative","scale":{"domain":[0,1],"nice":false},"axis":{"orient":"right","values":[0,0.2,0.4,0.6,0.8,1],"labels":false,"tickSize":6,"title":null}}}},
{"data":{"name":"lin"},"mark":{"type":"line","stroke":"#008000","strokeWidth":1,"strokeDash":[6,3,1,3],"clip":true},
"encoding":{"x":{"field":"x","type":"quantitative","scale":{"type":"log","domain":[0.04,2.11],"nice":false},"axis":{"orient":"bottom","values":[0.05,0.06,0.07,0.08,0.09,0.2,0.3,0.4,0.5,0.6,0.7,0.8,0.9,2],"labels":false,"domain":false,"tickSize":3,"title":null}},
"y":{"field":"b","type":"quantitative","scale":{"domain":[0,1],"nice":false},"axis":{"orient":"left","values":[0.05,0.1,0.15,0.25,0.3,0.35,0.45,0.5,0.55,0.65,0.7,0.75,0.85,0.9,0.95],"labels":false,"domain":false,"tickSize":3,"title":null}}}},
{"data":{"name":"lin"},"mark":{"type":"point","shape":"M-1,-1L1,1M-1,1L1,-1","filled":false,"stroke":"#008000","strokeWidth":1,"size":40,"opacity":1,"clip":true},
"encoding":{"x":{"field":"x","type":"quantitative","scale":{"type":"log","domain":[0.04,2.11],"nice":false},"axis":{"orient":"top","values":[0.05,0.06,0.07,0.08,0.09,0.2,0.3,0.4,0.5,0.6,0.7,0.8,0.9,2],"labels":false,"domain":false,"tickSize":3,"title":null}},
"y":{"field":"b","type":"quantitative","scale":{"domain":[0,1],"nice":false},"axis":{"orient":"right","values":[0.05,0.1,0.15,0.25,0.3,0.35,0.45,0.5,0.55,0.65,0.7,0.75,0.85,0.9,0.95],"labels":false,"domain":false,"tickSize":3,"title":null}}}},
{"data":{"name":"inr"},"mark":{"type":"line","stroke":"#ff0000","strokeWidth":1,"strokeDash":[1,3],"interpolate":"monotone","clip":true},
"encoding":{"x":{"field":"x","type":"quantitative","scale":{"type":"log","domain":[0.04,2.11],"nice":false},"axis":null},"y":{"field":"b","type":"quantitative","scale":{"domain":[0,1],"nice":false},"axis":null}}},
{"data":{"name":"inr"},"transform":[{"filter":"datum.m == 1"}],"mark":{"type":"point","shape":"circle","filled":true,"fill":"#ff0000","stroke":"#000000","strokeWidth":0.6,"size":45,"opacity":1,"clip":true},
"encoding":{"x":{"field":"x","type":"quantitative","scale":{"type":"log","domain":[0.04,2.11],"nice":false},"axis":null},"y":{"field":"b","type":"quantitative","scale":{"domain":[0,1],"nice":false},"axis":null}}},
{"data":{"name":"leg"},"mark":{"type":"point","filled":true,"opacity":1,"clip":true,"strokeWidth":1},
"encoding":{"y":{"field":"v","type":"quantitative","scale":{"domain":[0,1],"nice":false},"axis":null},
"shape":{"field":"s","type":"nominal","scale":{"domain":["Elliptical","Elliptical (linear grid)","Inertia Moments"],"range":["M-3.1,0H-1.2M-2.15,-0.95V0.95M1.2,0H3.1M2.15,-0.95V0.95M-0.9,0H-0.1M0.35,0H1.15","M-2.95,-0.8L-1.35,0.8M-2.95,0.8L-1.35,-0.8M1.35,-0.8L2.95,0.8M1.35,0.8L2.95,-0.8M-0.85,0H-0.65M-0.25,0H0.75","M-3.0,0A0.85,0.85,0,1,1,-1.3,0A0.85,0.85,0,1,1,-3.0,0ZM1.3,0A0.85,0.85,0,1,1,3.0,0A0.85,0.85,0,1,1,1.3,0ZM-0.9,0H-0.75M-0.4,0H-0.25M0.1,0H0.25M0.6,0H0.75"]},"legend":{"title":null}},
"stroke":{"field":"s","type":"nominal","scale":{"domain":["Elliptical","Elliptical (linear grid)","Inertia Moments"],"range":["#0000ff","#008000","#ff0000"]},"legend":{"title":null}},
"fill":{"field":"s","type":"nominal","scale":{"domain":["Elliptical","Elliptical (linear grid)","Inertia Moments"],"range":["transparent","transparent","#ff0000"]},"legend":{"title":null}}}}
]},
{"title":"ONI2B Isophotes Radial Profile","width":507,"height":327,
"resolve":{"axis":{"x":"independent","y":"independent"}},
"layer":[
{"data":{"name":"ell"},"mark":{"type":"line","stroke":"#0000ff","strokeWidth":1,"strokeDash":[5,5],"clip":true},
"encoding":{"x":{"field":"x","type":"quantitative","scale":{"type":"log","domain":[0.04,2.11],"nice":false},"axis":{"orient":"bottom","values":[0.1,1],"labelExpr":"datum.value < 0.5 ? '10⁻¹' : '10⁰'","tickSize":6,"title":"R / r₅₀₀","titleFont":"Liberation Serif","titleFontStyle":"italic","titleFontSize":22,"titlePadding":6}},
"y":{"field":"c","type":"quantitative","scale":{"domain":[0,1],"nice":false},"axis":{"orient":"left","values":[0,0.2,0.4,0.6,0.8,1],"format":".1f","tickSize":6,"title":"ϵ","titleFont":"DejaVu Serif","titleFontSize":18,"titlePadding":6}}}},
{"data":{"name":"ell"},"mark":{"type":"point","shape":"M-1,0H1M0,-1V1","filled":false,"stroke":"#0000ff","strokeWidth":1,"size":56,"opacity":1,"clip":true},
"encoding":{"x":{"field":"x","type":"quantitative","scale":{"type":"log","domain":[0.04,2.11],"nice":false},"axis":{"orient":"top","values":[0.1,1],"labels":false,"tickSize":6,"title":null}},
"y":{"field":"c","type":"quantitative","scale":{"domain":[0,1],"nice":false},"axis":{"orient":"right","values":[0,0.2,0.4,0.6,0.8,1],"labels":false,"tickSize":6,"title":null}}}},
{"data":{"name":"lin"},"mark":{"type":"line","stroke":"#008000","strokeWidth":1,"strokeDash":[6,3,1,3],"clip":true},
"encoding":{"x":{"field":"x","type":"quantitative","scale":{"type":"log","domain":[0.04,2.11],"nice":false},"axis":{"orient":"bottom","values":[0.05,0.06,0.07,0.08,0.09,0.2,0.3,0.4,0.5,0.6,0.7,0.8,0.9,2],"labels":false,"domain":false,"tickSize":3,"title":null}},
"y":{"field":"c","type":"quantitative","scale":{"domain":[0,1],"nice":false},"axis":{"orient":"left","values":[0.05,0.1,0.15,0.25,0.3,0.35,0.45,0.5,0.55,0.65,0.7,0.75,0.85,0.9,0.95],"labels":false,"domain":false,"tickSize":3,"title":null}}}},
{"data":{"name":"lin"},"mark":{"type":"point","shape":"M-1,-1L1,1M-1,1L1,-1","filled":false,"stroke":"#008000","strokeWidth":1,"size":40,"opacity":1,"clip":true},
"encoding":{"x":{"field":"x","type":"quantitative","scale":{"type":"log","domain":[0.04,2.11],"nice":false},"axis":{"orient":"top","values":[0.05,0.06,0.07,0.08,0.09,0.2,0.3,0.4,0.5,0.6,0.7,0.8,0.9,2],"labels":false,"domain":false,"tickSize":3,"title":null}},
"y":{"field":"c","type":"quantitative","scale":{"domain":[0,1],"nice":false},"axis":{"orient":"right","values":[0.05,0.1,0.15,0.25,0.3,0.35,0.45,0.5,0.55,0.65,0.7,0.75,0.85,0.9,0.95],"labels":false,"domain":false,"tickSize":3,"title":null}}}},
{"data":{"name":"inr"},"mark":{"type":"line","stroke":"#ff0000","strokeWidth":1,"strokeDash":[1,3],"interpolate":"monotone","clip":true},
"encoding":{"x":{"field":"x","type":"quantitative","scale":{"type":"log","domain":[0.04,2.11],"nice":false},"axis":null},"y":{"field":"c","type":"quantitative","scale":{"domain":[0,1],"nice":false},"axis":null}}},
{"data":{"name":"inr"},"transform":[{"filter":"datum.m == 1"}],"mark":{"type":"point","shape":"circle","filled":true,"fill":"#ff0000","stroke":"#000000","strokeWidth":0.6,"size":45,"opacity":1,"clip":true},
"encoding":{"x":{"field":"x","type":"quantitative","scale":{"type":"log","domain":[0.04,2.11],"nice":false},"axis":null},"y":{"field":"c","type":"quantitative","scale":{"domain":[0,1],"nice":false},"axis":null}}},
{"data":{"name":"leg"},"mark":{"type":"point","filled":true,"opacity":1,"clip":true,"strokeWidth":1},
"encoding":{"y":{"field":"v","type":"quantitative","scale":{"domain":[0,1],"nice":false},"axis":null},
"shape":{"field":"s","type":"nominal","scale":{"domain":["Elliptical","Elliptical (linear grid)","Inertia Moments"],"range":["M-3.1,0H-1.2M-2.15,-0.95V0.95M1.2,0H3.1M2.15,-0.95V0.95M-0.9,0H-0.1M0.35,0H1.15","M-2.95,-0.8L-1.35,0.8M-2.95,0.8L-1.35,-0.8M1.35,-0.8L2.95,0.8M1.35,0.8L2.95,-0.8M-0.85,0H-0.65M-0.25,0H0.75","M-3.0,0A0.85,0.85,0,1,1,-1.3,0A0.85,0.85,0,1,1,-3.0,0ZM1.3,0A0.85,0.85,0,1,1,3.0,0A0.85,0.85,0,1,1,1.3,0ZM-0.9,0H-0.75M-0.4,0H-0.25M0.1,0H0.25M0.6,0H0.75"]},"legend":{"title":null}},
"stroke":{"field":"s","type":"nominal","scale":{"domain":["Elliptical","Elliptical (linear grid)","Inertia Moments"],"range":["#0000ff","#008000","#ff0000"]},"legend":{"title":null}},
"fill":{"field":"s","type":"nominal","scale":{"domain":["Elliptical","Elliptical (linear grid)","Inertia Moments"],"range":["transparent","transparent","#ff0000"]},"legend":{"title":null}}}}
]},
{"title":"NIVP2 (BEN13) Isophotes Radial Profile","width":507,"height":327,
"resolve":{"axis":{"x":"independent","y":"independent"}},
"layer":[
{"data":{"name":"ell"},"mark":{"type":"line","stroke":"#0000ff","strokeWidth":1,"strokeDash":[5,5],"clip":true},
"encoding":{"x":{"field":"x","type":"quantitative","scale":{"type":"log","domain":[0.04,2.11],"nice":false},"axis":{"orient":"bottom","values":[0.1,1],"labelExpr":"datum.value < 0.5 ? '10⁻¹' : '10⁰'","tickSize":6,"title":"R / r₅₀₀","titleFont":"Liberation Serif","titleFontStyle":"italic","titleFontSize":22,"titlePadding":6}},
"y":{"field":"d","type":"quantitative","scale":{"domain":[0,1],"nice":false},"axis":{"orient":"left","values":[0,0.2,0.4,0.6,0.8,1],"format":".1f","tickSize":6,"title":"ϵ","titleFont":"DejaVu Serif","titleFontSize":18,"titlePadding":6}}}},
{"data":{"name":"ell"},"mark":{"type":"point","shape":"M-1,0H1M0,-1V1","filled":false,"stroke":"#0000ff","strokeWidth":1,"size":56,"opacity":1,"clip":true},
"encoding":{"x":{"field":"x","type":"quantitative","scale":{"type":"log","domain":[0.04,2.11],"nice":false},"axis":{"orient":"top","values":[0.1,1],"labels":false,"tickSize":6,"title":null}},
"y":{"field":"d","type":"quantitative","scale":{"domain":[0,1],"nice":false},"axis":{"orient":"right","values":[0,0.2,0.4,0.6,0.8,1],"labels":false,"tickSize":6,"title":null}}}},
{"data":{"name":"lin4"},"mark":{"type":"line","stroke":"#008000","strokeWidth":1,"strokeDash":[6,3,1,3],"clip":true},
"encoding":{"x":{"field":"x","type":"quantitative","scale":{"type":"log","domain":[0.04,2.11],"nice":false},"axis":{"orient":"bottom","values":[0.05,0.06,0.07,0.08,0.09,0.2,0.3,0.4,0.5,0.6,0.7,0.8,0.9,2],"labels":false,"domain":false,"tickSize":3,"title":null}},
"y":{"field":"y","type":"quantitative","scale":{"domain":[0,1],"nice":false},"axis":{"orient":"left","values":[0.05,0.1,0.15,0.25,0.3,0.35,0.45,0.5,0.55,0.65,0.7,0.75,0.85,0.9,0.95],"labels":false,"domain":false,"tickSize":3,"title":null}}}},
{"data":{"name":"lin4"},"mark":{"type":"point","shape":"M-1,-1L1,1M-1,1L1,-1","filled":false,"stroke":"#008000","strokeWidth":1,"size":40,"opacity":1,"clip":true},
"encoding":{"x":{"field":"x","type":"quantitative","scale":{"type":"log","domain":[0.04,2.11],"nice":false},"axis":{"orient":"top","values":[0.05,0.06,0.07,0.08,0.09,0.2,0.3,0.4,0.5,0.6,0.7,0.8,0.9,2],"labels":false,"domain":false,"tickSize":3,"title":null}},
"y":{"field":"y","type":"quantitative","scale":{"domain":[0,1],"nice":false},"axis":{"orient":"right","values":[0.05,0.1,0.15,0.25,0.3,0.35,0.45,0.5,0.55,0.65,0.7,0.75,0.85,0.9,0.95],"labels":false,"domain":false,"tickSize":3,"title":null}}}},
{"data":{"name":"inr4"},"mark":{"type":"line","stroke":"#ff0000","strokeWidth":1,"strokeDash":[1,3],"interpolate":"monotone","clip":true},
"encoding":{"x":{"field":"x","type":"quantitative","scale":{"type":"log","domain":[0.04,2.11],"nice":false},"axis":null},"y":{"field":"y","type":"quantitative","scale":{"domain":[0,1],"nice":false},"axis":null}}},
{"data":{"name":"inr4"},"mark":{"type":"point","shape":"circle","filled":true,"fill":"#ff0000","stroke":"#000000","strokeWidth":0.6,"size":45,"opacity":1,"clip":true},
"encoding":{"x":{"field":"x","type":"quantitative","scale":{"type":"log","domain":[0.04,2.11],"nice":false},"axis":null},"y":{"field":"y","type":"quantitative","scale":{"domain":[0,1],"nice":false},"axis":null}}},
{"data":{"name":"leg"},"mark":{"type":"point","filled":true,"opacity":1,"clip":true,"strokeWidth":1},
"encoding":{"y":{"field":"v","type":"quantitative","scale":{"domain":[0,1],"nice":false},"axis":null},
"shape":{"field":"s","type":"nominal","scale":{"domain":["Elliptical","Elliptical (linear grid)","Inertia Moments"],"range":["M-3.1,0H-1.2M-2.15,-0.95V0.95M1.2,0H3.1M2.15,-0.95V0.95M-0.9,0H-0.1M0.35,0H1.15","M-2.95,-0.8L-1.35,0.8M-2.95,0.8L-1.35,-0.8M1.35,-0.8L2.95,0.8M1.35,0.8L2.95,-0.8M-0.85,0H-0.65M-0.25,0H0.75","M-3.0,0A0.85,0.85,0,1,1,-1.3,0A0.85,0.85,0,1,1,-3.0,0ZM1.3,0A0.85,0.85,0,1,1,3.0,0A0.85,0.85,0,1,1,1.3,0ZM-0.9,0H-0.75M-0.4,0H-0.25M0.1,0H0.25M0.6,0H0.75"]},"legend":{"title":null}},
"stroke":{"field":"s","type":"nominal","scale":{"domain":["Elliptical","Elliptical (linear grid)","Inertia Moments"],"range":["#0000ff","#008000","#ff0000"]},"legend":{"title":null}},
"fill":{"field":"s","type":"nominal","scale":{"domain":["Elliptical","Elliptical (linear grid)","Inertia Moments"],"range":["transparent","transparent","#ff0000"]},"legend":{"title":null}}}}
]}
],
"config":{
"font":"DejaVu Sans",
"view":{"stroke":"#000000","strokeWidth":1},
"axis":{"grid":false,"labelFont":"DejaVu Sans","labelFontSize":11,"labelColor":"#000000","tickColor":"#000000","domainColor":"#000000","tickWidth":1,"domainWidth":1,"labelFlush":false,"labelOverlap":false,"labelPadding":2,"titleColor":"#000000","titleFontWeight":"normal"},
"title":{"font":"DejaVu Sans","fontSize":20,"fontWeight":"normal","color":"#000000","offset":4,"baseline":"alphabetic","anchor":"middle"},
"legend":{"orient":"top-right","offset":8,"padding":6,"strokeColor":"#000000","fillColor":"#ffffff","cornerRadius":0,"symbolSize":49,"symbolStrokeWidth":1,"symbolOffset":6.5,"labelOffset":18.5,"labelFont":"DejaVu Sans","labelFontSize":14.6,"labelColor":"#000000","labelLimit":300,"rowPadding":6,"symbolOpacity":1}
}
}
